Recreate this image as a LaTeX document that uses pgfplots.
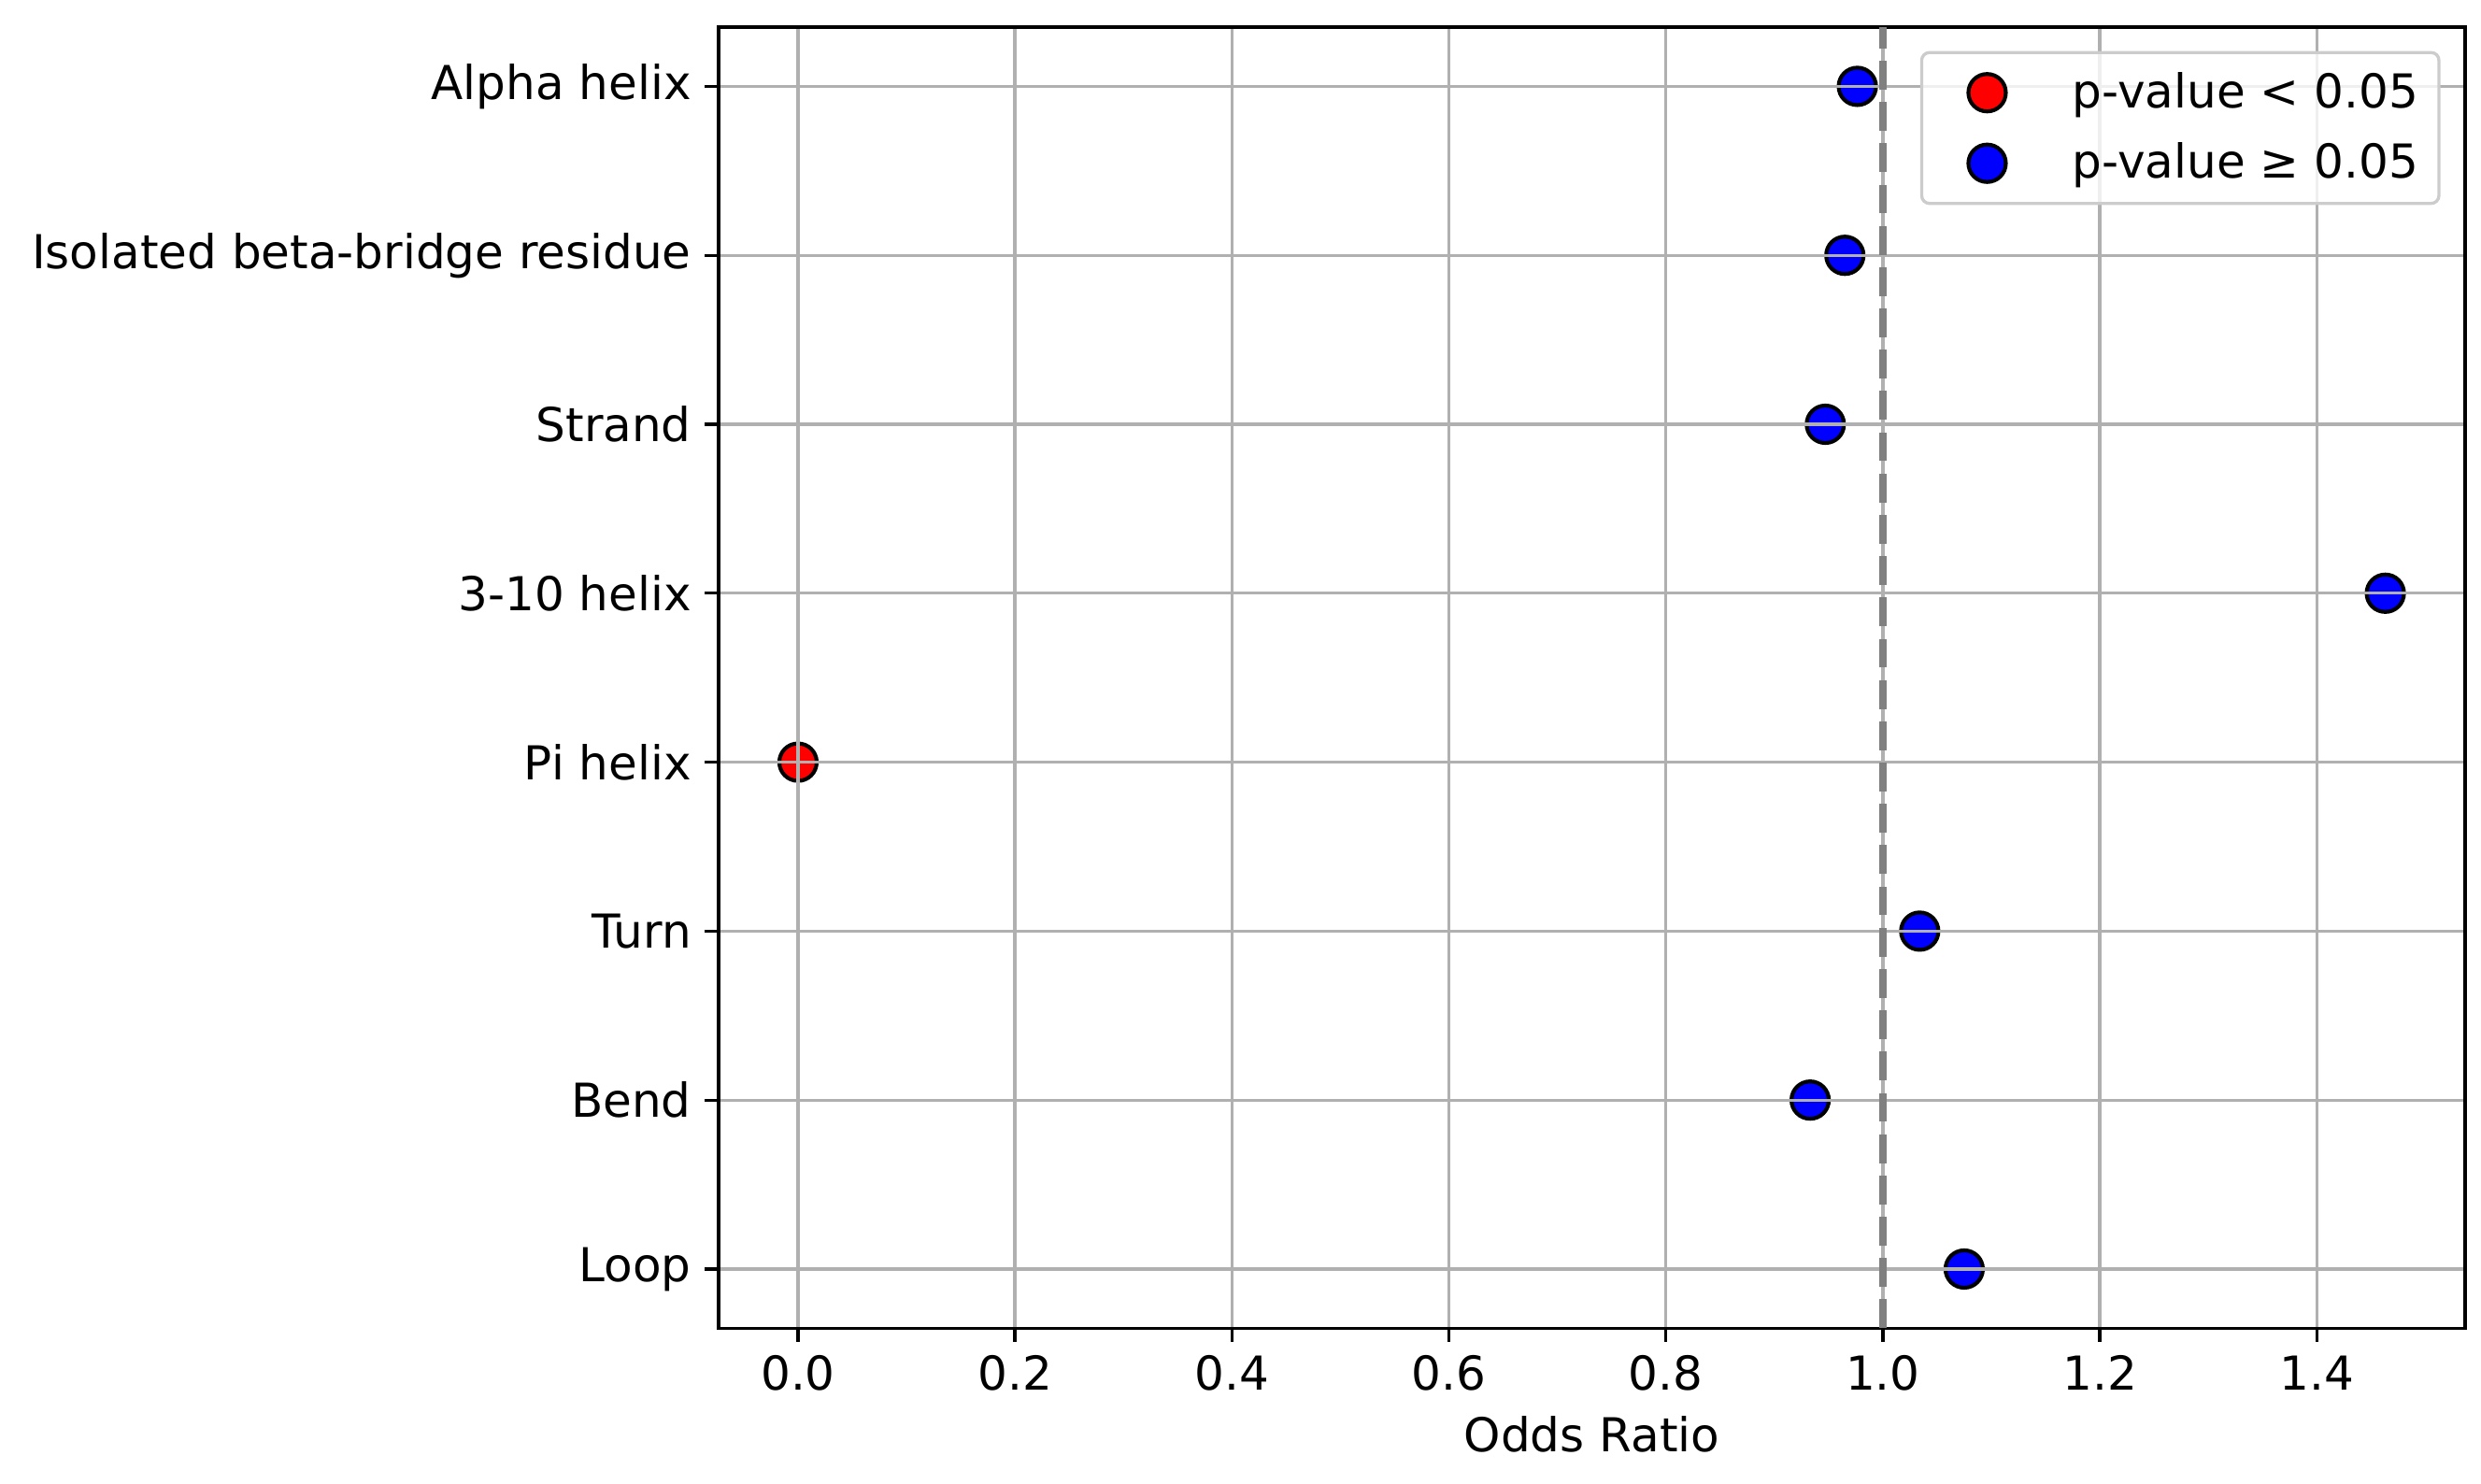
\documentclass[border=0pt]{standalone}
\usepackage{pgfplots}
\pgfplotsset{compat=1.18}
\usepackage{fontspec}
\setmainfont{DejaVu Sans}
\definecolor{gridgray}{HTML}{B0B0B0}
\definecolor{dashgray}{HTML}{808080}
\definecolor{legframe}{HTML}{CCCCCC}
\begin{document}
\begin{tikzpicture}
\begin{axis}[
  name=ax,
  set layers=axis on top,
  scale only axis,
  width=448.4pt, height=334pt,
  xmin=-0.0732, xmax=1.5367,
  ymin=-0.35, ymax=7.35,
  xtick={0,0.2,0.4,0.6,0.8,1.0,1.2,1.4},
  ytick={0,1,2,3,4,5,6,7},
  yticklabels={Loop,Bend,Turn,Pi helix,3-10 helix,Strand,Isolated beta-bridge residue,Alpha helix},
  xtick pos=bottom, ytick pos=left,
  /pgf/number format/assume math mode=true,
  xticklabel style={/pgf/number format/.cd, fixed, fixed zerofill, precision=1},
  tick label style={font=\fontsize{12}{14}\selectfont},
  label style={font=\fontsize{12}{14}\selectfont},
  xlabel={Odds Ratio},
  xlabel style={yshift=0.3pt},
  tick align=outside,
  major tick length=3.5pt,
  tick style={black, line width=0.8pt},
  axis line style={black, line width=0.8pt},
  grid=major,
  major grid style={gridgray, line width=0.8pt},
  legend cell align=left,
  legend style={at={(1,1)}, anchor=north east, xshift=-6.3pt, yshift=-6.1pt,
    draw=legframe, rounded corners=2pt, fill=white, fill opacity=0.8, text opacity=1,
    font=\fontsize{12}{14}\selectfont, inner xsep=3.3pt, inner ysep=3pt,
    row sep=3.5pt, line width=0.8pt},
  legend image code/.code={%
    \path (0pt,0pt) (32.6pt,0pt);
    \draw[mark repeat=2,mark phase=2,#1,fill opacity=1] plot coordinates {(0pt,0pt) (13.1pt,0pt) (32.6pt,0pt)};},
]
\addplot[only marks, mark=*, mark size=4.8pt, mark options={fill=red, draw=black, line width=1pt}]
  coordinates {(0.0,3)};
\addlegendentry{p-value < 0.05}
\addplot[only marks, mark=*, mark size=4.8pt, mark options={fill=blue, draw=black, line width=1pt}]
  coordinates {(0.9765,7) (0.965,6) (0.947,5) (1.4632,4) (1.034,2) (0.933,1) (1.075,0)};
\addlegendentry{p-value ≥ 0.05}
\addplot[forget plot, on layer=axis foreground, dashgray, line width=2pt, dash pattern=on 7.4pt off 3.2pt]
  coordinates {(1,-0.35) (1,7.35)};
\end{axis}
\pgfresetboundingbox
\path ([xshift=-184.5pt,yshift=-39.9pt]ax.south west) rectangle ([xshift=4.1pt,yshift=7pt]ax.north east);
\end{tikzpicture}
\end{document}
